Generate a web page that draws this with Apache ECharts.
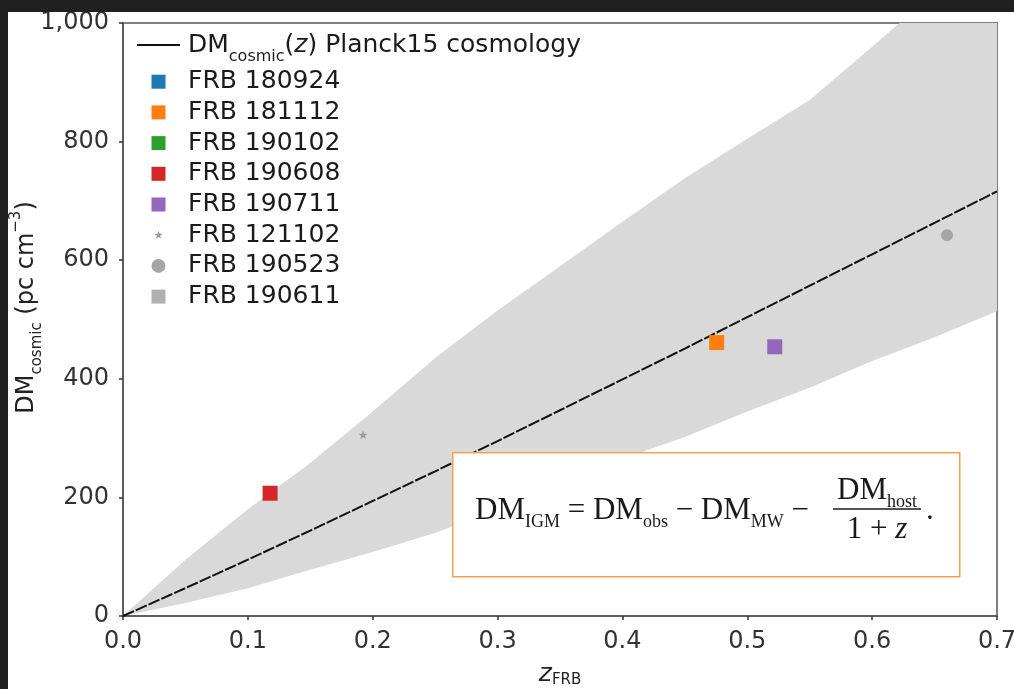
<!DOCTYPE html>
<html><head><meta charset="utf-8">
<script src="https://cdn.jsdelivr.net/npm/echarts@6/dist/echarts.min.js"></script>
<style>
html,body{margin:0;padding:0;background:#202020;width:1014px;height:689px;overflow:hidden;}
#c{position:absolute;left:8px;top:12px;width:1006px;height:677px;background:#fff;}
</style></head><body><div id="c"></div>
<script>
// ---- data ----
const xTicks = [0, 0.1, 0.2, 0.3, 0.4, 0.5, 0.6, 0.7];
const yTicks = [0, 200, 400, 600, 800, 1000];

const bandUpperZ = [0, 0.05, 0.1, 0.15, 0.2, 0.25, 0.3, 0.35, 0.4, 0.45, 0.5, 0.55, 0.6, 0.622, 0.65, 0.7];
const bandUpperDM = [0, 95, 180, 258, 345, 435, 515, 590, 665, 738, 805, 870, 960, 1000, 1040, 1115];
const bandLowerZ = [0, 0.05, 0.1, 0.15, 0.2, 0.25, 0.3, 0.35, 0.4, 0.45, 0.5, 0.55, 0.6, 0.65, 0.7];
const bandLowerDM = [0, 22, 47, 78, 108, 140, 180, 220, 265, 302, 345, 385, 430, 470, 514];

const lineZ = [0, 0.05, 0.1, 0.15, 0.2, 0.25, 0.3, 0.35, 0.4, 0.45, 0.5, 0.55, 0.6, 0.65, 0.7];
const lineDM = [0, 47, 95, 144, 194, 244, 295, 347, 399, 451, 504, 557, 610, 663, 716];
const lineName = 'DM_cosmic(z) Planck15 cosmology';

const frbNames = ['FRB 180924', 'FRB 181112', 'FRB 190102', 'FRB 190608', 'FRB 190711', 'FRB 121102', 'FRB 190523', 'FRB 190611'];
const frbZ = [0.3214, 0.4755, 0.291, 0.1178, 0.522, 0.1923, 0.660, 0.378];
const frbDM = [260, 461, 250, 207, 454, 305, 642, 200];

// ---- styles ----
const squarePath = 'path://M0,0 L10,0 L10,10 L0,10 Z';
const starPath = 'path://M0,0 M100,100 M50,18 L57.5,40 L81,40 L62,54 L69,77 L50,63 L31,77 L38,54 L19,40 L42.5,40 Z';
const linePath = 'path://M0,0 L100,0 L100,5 L0,5 Z';
const frbColors = ['#1f77b4', '#ff7f0e', '#2ca02c', '#d62728', '#9467bd', '#9a9a9a', '#a6a6a6', '#b0b0b0'];
const frbSymbols = [squarePath, squarePath, squarePath, squarePath, squarePath, starPath, 'circle', squarePath];
const frbSizes = [15, 15, 15, 15, 15, 15, 12, 15];

const FONT = 'DejaVu Sans';
const SERIF = 'Liberation Serif';

const chart = echarts.init(document.getElementById('c'), null, {renderer: 'canvas'});

const series = [
  {
    type: 'custom', name: 'band', silent: true, z: 1,
    data: [[0, 0]],
    renderItem: function (params, api) {
      const pts = [];
      for (let i = 0; i < bandUpperZ.length; i++) pts.push(api.coord([bandUpperZ[i], bandUpperDM[i]]));
      for (let i = bandLowerZ.length - 1; i >= 0; i--) pts.push(api.coord([bandLowerZ[i], bandLowerDM[i]]));
      const cs = params.coordSys;
      const clipped = echarts.graphic.clipPointsByRect(pts, {x: cs.x, y: cs.y, width: cs.width, height: cs.height});
      return {type: 'polygon', shape: {points: clipped}, style: {fill: '#d9d9d9'}};
    }
  },
  {
    type: 'line', name: lineName, z: 3, symbol: 'none', showSymbol: false, silent: true,
    data: lineZ.map((z, i) => [z, lineDM[i]]),
    lineStyle: {color: '#111', width: 2, type: [12, 2]},
    itemStyle: {color: '#111'}
  }
];
frbNames.forEach((n, i) => {
  series.push({
    type: 'scatter', name: n, z: 4, silent: true,
    symbol: frbSymbols[i], symbolSize: frbSizes[i],
    itemStyle: {color: frbColors[i], opacity: 1},
    data: [[frbZ[i], frbDM[i]]]
  });
});

const legendData = [{name: lineName, icon: linePath, itemStyle: {color: '#111'}}]
  .concat(frbNames.map((n, i) => ({name: n, icon: frbSymbols[i]})));

const option = {
  animation: false,
  backgroundColor: '#ffffff',
  grid: {left: 115, right: 17, top: 11, bottom: 73, containLabel: false, outerBoundsMode: 'none',
         show: true, borderColor: '#555', borderWidth: 1.5, backgroundColor: 'transparent'},
  xAxis: {
    type: 'value', min: 0, max: 0.7, interval: 0.1,
    name: '{i|z}{s|FRB}', nameLocation: 'middle', nameGap: 44, nameMoveOverlap: false,
    nameTextStyle: {rich: {
      i: {fontFamily: FONT, fontSize: 25, fontStyle: 'italic', lineHeight: 28, color: '#222'},
      s: {fontFamily: FONT, fontSize: 15, lineHeight: 16, verticalAlign: 'bottom', color: '#222'}
    }},
    axisLine: {show: true, onZero: false, lineStyle: {color: '#555', width: 1.5}},
    axisTick: {show: true, inside: false, length: 4, lineStyle: {color: '#333', width: 1.5}},
    axisLabel: {margin: 14, fontSize: 24, fontFamily: FONT, color: '#333',
      formatter: v => v.toFixed(1), showMaxLabel: true, showMinLabel: true, hideOverlap: false},
    splitLine: {show: false}
  },
  yAxis: {
    type: 'value', min: 0, max: 1000, interval: 200,
    name: '{a|DM}{s|cosmic}{a| (pc cm}{p|−3}{a|)}', nameLocation: 'middle', nameGap: 78, nameMoveOverlap: false,
    nameTextStyle: {padding: [0, 0, 0, 24], rich: {
      a: {fontFamily: FONT, fontSize: 24, lineHeight: 36, color: '#222'},
      s: {fontFamily: FONT, fontSize: 15, lineHeight: 16, verticalAlign: 'bottom', color: '#222'},
      p: {fontFamily: FONT, fontSize: 15, lineHeight: 16, verticalAlign: 'top', color: '#222'}
    }},
    axisLine: {show: true, onZero: false, lineStyle: {color: '#555', width: 1.5}},
    axisTick: {show: true, inside: false, length: 4, lineStyle: {color: '#333', width: 1.5}},
    axisLabel: {margin: 14, fontSize: 24, fontFamily: FONT, color: '#333',
      formatter: v => v.toLocaleString('en-US'), showMaxLabel: true, showMinLabel: true, hideOverlap: false},
    splitLine: {show: false}
  },
  legend: {
    orient: 'vertical', left: 129, top: 13, padding: 0, itemGap: 2.7,
    itemWidth: 43, itemHeight: 14, selectedMode: false,
    data: legendData,
    formatter: n => n === lineName ? '{a|DM}{s|cosmic}{a|(}{i|z}{a|) Planck15 cosmology}' : n,
    textStyle: {
      fontFamily: FONT, fontSize: 25, color: '#1a1a1a', lineHeight: 28, padding: [0, 0, 0, 3],
      rich: {
        a: {fontFamily: FONT, fontSize: 25, lineHeight: 40, color: '#1a1a1a'},
        i: {fontFamily: FONT, fontSize: 25, fontStyle: 'italic', lineHeight: 40, color: '#1a1a1a'},
        s: {fontFamily: FONT, fontSize: 16, lineHeight: 18, verticalAlign: 'bottom', color: '#1a1a1a'}
      }
    }
  },
  graphic: [
    {type: 'rect', left: 444, top: 440, z: 100,
     shape: {width: 507, height: 124},
     style: {fill: '#ffffff', stroke: '#f5a24b', lineWidth: 1.5}},
    {type: 'text', x: 467, y: 499, z: 101,
     style: {
       text: '{d|DM}{s|IGM}{o| = }{d|DM}{s|obs}{o| − }{d|DM}{s|MW}{o| − }',
       align: 'left', verticalAlign: 'middle',
       rich: {
         d: {fontFamily: SERIF, fontSize: 31, lineHeight: 40, fill: '#1a1a1a'},
         o: {fontFamily: SERIF, fontSize: 31, lineHeight: 40, fill: '#1a1a1a'},
         s: {fontFamily: SERIF, fontSize: 18, lineHeight: 22, verticalAlign: 'bottom', fill: '#1a1a1a'}
       }
     }},
    {type: 'text', x: 869, y: 479, z: 101,
     style: {
       text: '{d|DM}{s|host}', align: 'center', verticalAlign: 'middle',
       rich: {
         d: {fontFamily: SERIF, fontSize: 31, lineHeight: 40, fill: '#1a1a1a'},
         s: {fontFamily: SERIF, fontSize: 18, lineHeight: 22, verticalAlign: 'bottom', fill: '#1a1a1a'}
       }
     }},
    {type: 'line', z: 101, shape: {x1: 825, y1: 497, x2: 913, y2: 497},
     style: {stroke: '#1a1a1a', lineWidth: 1.5}},
    {type: 'text', x: 869, y: 518, z: 101,
     style: {
       text: '{n|1 + }{z|z}', align: 'center', verticalAlign: 'middle',
       rich: {
         n: {fontFamily: SERIF, fontSize: 31, lineHeight: 36, fill: '#1a1a1a'},
         z: {fontFamily: SERIF, fontSize: 31, fontStyle: 'italic', lineHeight: 36, fill: '#1a1a1a'}
       }
     }},
    {type: 'text', x: 918, y: 499, z: 101,
     style: {text: '.', align: 'left', verticalAlign: 'middle',
       font: '31px "Liberation Serif"', fill: '#1a1a1a'}}
  ],
  series: series
};
chart.setOption(option);
</script>
</body></html>
